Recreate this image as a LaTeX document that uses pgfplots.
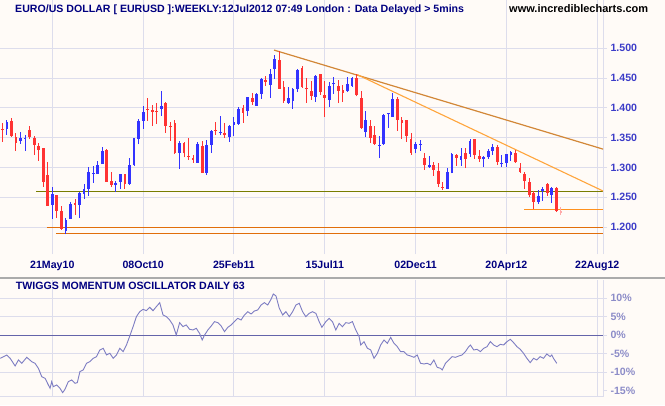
\documentclass[border=0pt]{standalone}
\usepackage{pgfplots}
\pgfplotsset{compat=1.18}
\usepackage{pgfplotstable}
\usepackage{fontspec}
\setmainfont{Liberation Sans}

\definecolor{bg}{RGB}{255,251,247}
\definecolor{gridc}{RGB}{221,221,236}
\definecolor{upc}{RGB}{51,51,255}
\definecolor{dnc}{RGB}{255,51,51}
\definecolor{pinkc}{RGB}{255,170,170}
\definecolor{oliv}{RGB}{120,125,0}
\definecolor{burnt}{RGB}{225,110,10}
\definecolor{orng}{RGB}{255,145,30}
\definecolor{tlone}{RGB}{210,135,55}
\definecolor{tltwo}{RGB}{255,165,60}
\definecolor{oscc}{RGB}{125,125,195}
\definecolor{zeroc}{RGB}{100,100,170}
\definecolor{tlab}{RGB}{60,60,200}
\definecolor{tlabb}{RGB}{140,140,200}
\definecolor{navyc}{RGB}{0,0,128}

% weekly candles: w O H L C  (w = weeks from 21May10)
\pgfplotstableread{
w O H L C
-10 1.3647 1.3798 1.3547 1.3759
-7 1.3446 1.3592 1.3396 1.3497
-6 1.3480 1.3547 1.3279 1.3497
0 1.2379 1.2675 1.2138 1.2557
3 1.1937 1.2149 1.1881 1.2116
4 1.2138 1.2418 1.2138 1.2390
6 1.2379 1.2597 1.2161 1.2569
7 1.2557 1.2720 1.2479 1.2641
8 1.2647 1.3010 1.2529 1.2926
9 1.2893 1.3027 1.2747 1.2915
10 1.2893 1.3105 1.2893 1.3044
11 1.3066 1.3346 1.3066 1.3279
14 1.2708 1.2775 1.2597 1.2742
15 1.2764 1.2893 1.2636 1.2893
17 1.2725 1.3161 1.2708 1.3044
18 1.3044 1.3502 1.3033 1.3497
19 1.3485 1.3810 1.3390 1.3782
20 1.3787 1.4039 1.3653 1.3933
24 1.3988 1.4285 1.3871 1.4033
28 1.3251 1.3446 1.2982 1.3413
32 1.3083 1.3429 1.3083 1.3396
34 1.2904 1.3463 1.2882 1.3379
35 1.3385 1.3631 1.3251 1.3614
37 1.3586 1.3860 1.3552 1.3603
39 1.3519 1.3715 1.3435 1.3698
40 1.3720 1.3854 1.3530 1.3765
41 1.3737 1.4011 1.3720 1.3983
43 1.3955 1.4184 1.3865 1.4179
45 1.4039 1.4246 1.4039 1.4234
46 1.4240 1.4497 1.4156 1.4486
48 1.4385 1.4648 1.4173 1.4575
49 1.4648 1.4883 1.4486 1.4821
52 1.4089 1.4352 1.4067 1.4167
53 1.4123 1.4329 1.3983 1.4313
54 1.4313 1.4654 1.4274 1.4637
58 1.4190 1.4553 1.4106 1.4536
61 1.4134 1.4441 1.4022 1.4369
62 1.4397 1.4525 1.4234 1.4414
65 1.4290 1.4514 1.4274 1.4402
66 1.4374 1.4514 1.4357 1.4503
69 1.3597 1.3949 1.3508 1.3798
72 1.3368 1.3530 1.3156 1.3385
73 1.3396 1.3899 1.3379 1.3882
74 1.3893 1.3921 1.3664 1.3910
75 1.3849 1.4257 1.3849 1.4151
80 1.3312 1.3435 1.3239 1.3396
81 1.3380 1.3463 1.3284 1.3396
83 1.3005 1.3195 1.2988 1.3044
87 1.2647 1.2993 1.2636 1.2921
88 1.2904 1.3251 1.2904 1.3228
90 1.3128 1.3323 1.3027 1.3195
92 1.3234 1.3480 1.3183 1.3446
95 1.3139 1.3195 1.3016 1.3172
96 1.3172 1.3306 1.3150 1.3284
97 1.3279 1.3396 1.3211 1.3340
99 1.3060 1.3211 1.3005 1.3078
100 1.3083 1.3228 1.3005 1.3228
101 1.3217 1.3273 1.3116 1.3262
107 1.2429 1.2625 1.2390 1.2529
108 1.2613 1.2680 1.2446 1.2647
110 1.2541 1.2680 1.2412 1.2652
}\upcandles

\pgfplotstableread{
w O H L C
-11 1.3653 1.3743 1.3435 1.3631
-9 1.3782 1.3826 1.3519 1.3530
-8 1.3513 1.3575 1.3279 1.3418
-5 1.3631 1.3698 1.3480 1.3513
-4 1.3497 1.3530 1.3211 1.3379
-3 1.3362 1.3407 1.3116 1.3295
-2 1.3323 1.3334 1.2680 1.2764
-1 1.2876 1.3094 1.2358 1.2362
1 1.2535 1.2541 1.2161 1.2278
2 1.2272 1.2356 1.1954 1.1970
5 1.2412 1.2468 1.2205 1.2379
12 1.3295 1.3312 1.2764 1.2764
13 1.2775 1.2926 1.2669 1.2708
16 1.2893 1.2893 1.2647 1.2720
21 1.3983 1.4162 1.3787 1.3966
22 1.3966 1.4050 1.3703 1.3938
23 1.3955 1.4083 1.3737 1.3938
25 1.4089 1.4100 1.3586 1.3703
26 1.3698 1.3765 1.3452 1.3682
27 1.3748 1.3798 1.3223 1.3251
29 1.3413 1.3429 1.3172 1.3239
30 1.3195 1.3497 1.3133 1.3180
31 1.3167 1.3211 1.3083 1.3128
33 1.3362 1.3446 1.2915 1.2915
36 1.3631 1.3759 1.3552 1.3614
38 1.3580 1.3743 1.3502 1.3541
42 1.4000 1.4044 1.3754 1.3921
44 1.4162 1.4246 1.4050 1.4106
47 1.4469 1.4536 1.4374 1.4441
50 1.4805 1.4950 1.4324 1.4324
51 1.4352 1.4447 1.4078 1.4117
55 1.4670 1.4704 1.4341 1.4357
56 1.4335 1.4497 1.4089 1.4314
57 1.4290 1.4447 1.4134 1.4201
59 1.4570 1.4570 1.4218 1.4274
60 1.4218 1.4458 1.3854 1.4173
63 1.4369 1.4469 1.4078 1.4290
64 1.4302 1.4380 1.4106 1.4257
67 1.4503 1.4564 1.4195 1.4218
68 1.4167 1.4290 1.3642 1.3664
70 1.3698 1.3798 1.3407 1.3502
71 1.3547 1.3698 1.3379 1.3402
76 1.4156 1.4179 1.3614 1.3804
77 1.3798 1.3854 1.3485 1.3754
78 1.3798 1.3798 1.3435 1.3530
79 1.3480 1.3575 1.3211 1.3251
82 1.3167 1.3239 1.2960 1.3044
84 1.3044 1.3100 1.2859 1.2960
85 1.2943 1.3072 1.2669 1.2725
86 1.2680 1.2764 1.2625 1.2664
89 1.3211 1.3223 1.3027 1.3167
91 1.3239 1.3323 1.2988 1.3150
93 1.3474 1.3485 1.3150 1.3206
94 1.3195 1.3295 1.3094 1.3139
98 1.3340 1.3374 1.3044 1.3100
102 1.3239 1.3295 1.3083 1.3088
103 1.2999 1.3072 1.2915 1.2932
104 1.2893 1.2926 1.2647 1.2781
105 1.2759 1.2831 1.2513 1.2535
106 1.2569 1.2613 1.2300 1.2429
109 1.2725 1.2736 1.2529 1.2580
111 1.2664 1.2680 1.2256 1.2278
}\dncandles

\pgfplotstableread{
w O H L C
112 1.2278 1.2334 1.2205 1.2233
}\curcandle

\pgfplotstableread{
w v
-11.48 -6.22
-10.02 -5.32
-9.28 -6.22
-8.19 -8.29
-7.46 -6.67
-6.72 -7.57
-5.63 -5.95
-4.53 -7.12
-3.80 -7.57
-3.06 -8.93
-2.33 -11.18
-1.60 -11.63
-0.87 -13.43
-0.50 -14.33
-0.14 -12.53
0.23 -13.88
0.96 -13.43
1.69 -14.33
2.28 -15.50
2.79 -14.60
3.52 -12.53
4.25 -12.08
4.99 -12.98
5.50 -12.80
6.08 -9.83
6.81 -9.38
7.55 -7.57
8.28 -7.12
9.01 -6.22
9.74 -5.77
10.47 -3.97
11.21 -3.52
11.94 -5.32
12.67 -4.87
13.40 -6.22
14.13 -5.32
14.86 -3.52
15.60 -4.42
16.33 -2.62
17.06 -0.19
17.79 2.34
18.52 5.04
19.26 6.39
19.99 7.02
20.72 6.66
21.45 7.56
22.18 6.66
22.91 7.74
23.65 8.82
24.38 5.49
25.11 5.04
25.84 4.14
26.57 2.79
27.30 0.08
28.04 3.42
28.77 2.34
29.50 2.79
30.23 1.62
30.96 1.44
31.70 1.89
32.43 0.53
33.01 -1.27
33.53 0.08
34.26 1.44
34.99 2.52
35.72 3.69
36.45 3.42
37.18 2.52
37.92 0.99
38.65 2.16
39.38 2.79
40.11 3.69
40.84 4.59
41.57 4.14
42.31 5.49
43.04 6.39
43.77 5.76
44.50 6.57
45.23 6.84
45.97 8.19
46.70 8.82
47.43 8.19
48.16 9.73
48.67 11.17
49.26 10.63
49.99 7.29
50.72 5.49
51.45 6.39
52.19 5.04
52.92 6.39
53.65 8.19
54.38 8.64
55.11 6.39
55.84 5.04
56.58 5.94
57.31 6.39
58.04 5.94
58.77 3.69
59.36 2.16
60.24 3.69
60.97 4.59
61.70 3.69
62.43 1.44
63.17 3.24
63.90 2.34
64.63 3.42
65.36 3.24
66.09 3.69
66.82 1.44
67.56 -0.37
67.92 -2.62
68.65 -1.72
69.39 -3.52
70.12 -3.97
70.85 -6.22
71.58 -4.87
72.31 -2.62
73.04 -1.27
73.78 -2.17
74.51 -0.55
75.24 -2.17
75.97 -3.07
76.70 -4.42
77.43 -4.42
78.17 -5.32
78.90 -5.59
79.63 -5.95
80.36 -5.32
81.09 -7.57
81.83 -7.75
82.56 -7.57
83.29 -8.02
84.02 -6.67
84.75 -8.65
85.48 -8.93
85.85 -9.38
86.58 -7.57
87.31 -6.67
88.05 -5.77
88.78 -5.95
89.51 -5.59
90.24 -5.32
90.97 -4.42
91.71 -3.07
92.07 -2.62
92.80 -3.97
93.53 -3.79
94.27 -4.42
95.00 -3.52
95.73 -3.07
96.46 -1.72
97.19 -2.62
97.93 -3.07
98.66 -2.44
99.39 -2.62
100.12 -1.72
100.85 -1.09
101.58 -1.99
102.32 -3.07
103.05 -3.79
103.78 -4.87
104.51 -6.22
105.24 -7.39
105.97 -6.22
106.71 -6.67
107.44 -5.77
108.17 -6.22
108.90 -5.05
109.63 -5.77
110.00 -5.32
110.36 -6.22
111.10 -7.57
}\osc

\newcommand{\lblfont}{\bfseries\fontsize{10.6}{12}\selectfont}

\begin{document}
\begin{tikzpicture}
\fill[bg] (0,0) rectangle (665pt,405pt);

% ---------------- price panel ----------------
\begin{axis}[
  at={(0pt,151pt)}, anchor=south west, scale only axis,
  width=603pt, height=254pt,
  xmin=-11.52, xmax=121.27, ymin=1.1549, ymax=1.5810,
  axis x line*=bottom, axis y line*=right,
  x axis line style={draw=none},
  y axis line style={draw=gridc, line width=1pt, -},
  xtick={0,20,40,60,80,100,120},
  xticklabels={21May10,08Oct10,25Feb11,15Jul11,02Dec11,20Apr12,22Aug12},
  ytick={1.2,1.25,1.3,1.35,1.4,1.45,1.5},
  yticklabels={1.200,1.250,1.300,1.350,1.400,1.450,1.500},
  grid=major, major grid style={draw=gridc, line width=1pt},
  tick align=outside, major tick length=4pt,
  xtick style={draw=none},
  ytick style={draw=gridc, line width=1pt},
  xticklabel style={font=\lblfont, text=navyc, anchor=base, yshift=-10pt},
  yticklabel style={font=\lblfont, text=tlab, anchor=west},
  clip=true,
]
% support / resistance lines
\addplot[oliv, line width=1.1pt] coordinates {(-3.59,1.2602) (121.3,1.2602)};
\addplot[burnt, line width=1.1pt] coordinates {(-1.17,1.2000) (121.3,1.2000)};
\addplot[burnt, line width=1.1pt] coordinates {(0.81,1.1900) (121.3,1.1900)};
\addplot[orng, line width=1.1pt] coordinates {(103.9,1.2300) (121.3,1.2300)};
% trend lines
\addplot[tlone, line width=1.2pt] coordinates {(48.82,1.4970) (121.3,1.3308)};
\addplot[tltwo, line width=1.1pt] coordinates {(67.1,1.4560) (121.3,1.2605)};
% wicks
\addplot[draw=none, mark=none, error bars/.cd, y dir=plus, y explicit, error mark=none,
  error bar style={draw=upc, line width=1pt}]
  table[x=w, y=L, y error plus expr=\thisrow{H}-\thisrow{L}] {\upcandles};
\addplot[draw=none, mark=none, error bars/.cd, y dir=plus, y explicit, error mark=none,
  error bar style={draw=dnc, line width=1pt}]
  table[x=w, y=L, y error plus expr=\thisrow{H}-\thisrow{L}] {\dncandles};
\addplot[draw=none, mark=none, error bars/.cd, y dir=plus, y explicit, error mark=none,
  error bar style={draw=pinkc, line width=1pt}]
  table[x=w, y=L, y error plus expr=\thisrow{H}-\thisrow{L}] {\curcandle};
% bodies
\addplot[draw=none, mark=none, error bars/.cd, y dir=plus, y explicit, error mark=none,
  error bar style={draw=upc, line width=2.8pt}]
  table[x=w, y=O, y error plus expr=\thisrow{C}-\thisrow{O}] {\upcandles};
\addplot[draw=none, mark=none, error bars/.cd, y dir=plus, y explicit, error mark=none,
  error bar style={draw=dnc, line width=2.8pt}]
  table[x=w, y=C, y error plus expr=\thisrow{O}-\thisrow{C}] {\dncandles};
\addplot[draw=none, mark=none, error bars/.cd, y dir=plus, y explicit, error mark=none,
  error bar style={draw=pinkc, line width=2.8pt}]
  table[x=w, y=C, y error plus expr=\thisrow{O}-\thisrow{C}] {\curcandle};
\end{axis}

% separator
\draw[black!33, line width=2pt] (0,127pt) -- (665pt,127pt);

% ---------------- oscillator panel ----------------
\begin{axis}[
  at={(0pt,8.3pt)}, anchor=south west, scale only axis,
  width=603pt, height=116.7pt,
  xmin=-11.52, xmax=121.27, ymin=-16.6, ymax=14.95,
  axis x line*=bottom, axis y line*=right,
  x axis line style={draw=gridc, line width=1pt, -},
  y axis line style={draw=gridc, line width=1pt, -},
  xtick={0,20,40,60,80,100,120},
  xticklabels={{},{},{},{},{},{},{}},
  ytick={-10,-5,0,5,10},
  yticklabels={-10\%,-5\%,0\%,5\%,10\%},
  extra y ticks={-15}, extra y tick labels={-15\%},
  extra y tick style={grid=none},
  grid=major, major grid style={draw=gridc, line width=1pt},
  tick align=outside, major tick length=4pt,
  xtick style={draw=none},
  ytick style={draw=gridc, line width=1pt},
  yticklabel style={font=\lblfont, text=tlabb, anchor=west},
  clip=true,
]
\addplot[zeroc, line width=1.3pt] coordinates {(-11.52,0) (121.27,0)};
\addplot[oscc, line width=0.9pt, mark=none] table[x=w, y=v] {\osc};
\end{axis}

% titles
\node[anchor=base west, inner sep=0, font=\lblfont, text=navyc] at (15pt,392.7pt)
  {EURO/US DOLLAR [ EURUSD ]:WEEKLY:12Jul2012 07:49 London : Data Delayed > 5mins};
\node[anchor=base west, inner sep=0, font=\bfseries\fontsize{11}{12}\selectfont, text=black] at (509pt,392.7pt)
  {www.incrediblecharts.com};
\node[anchor=base west, inner sep=0, font=\lblfont, text=navyc] at (15.7pt,115pt)
  {TWIGGS MOMENTUM OSCILLATOR DAILY 63};

\pgfresetboundingbox
\useasboundingbox (0,0) rectangle (665pt,405pt);
\end{tikzpicture}
\end{document}
